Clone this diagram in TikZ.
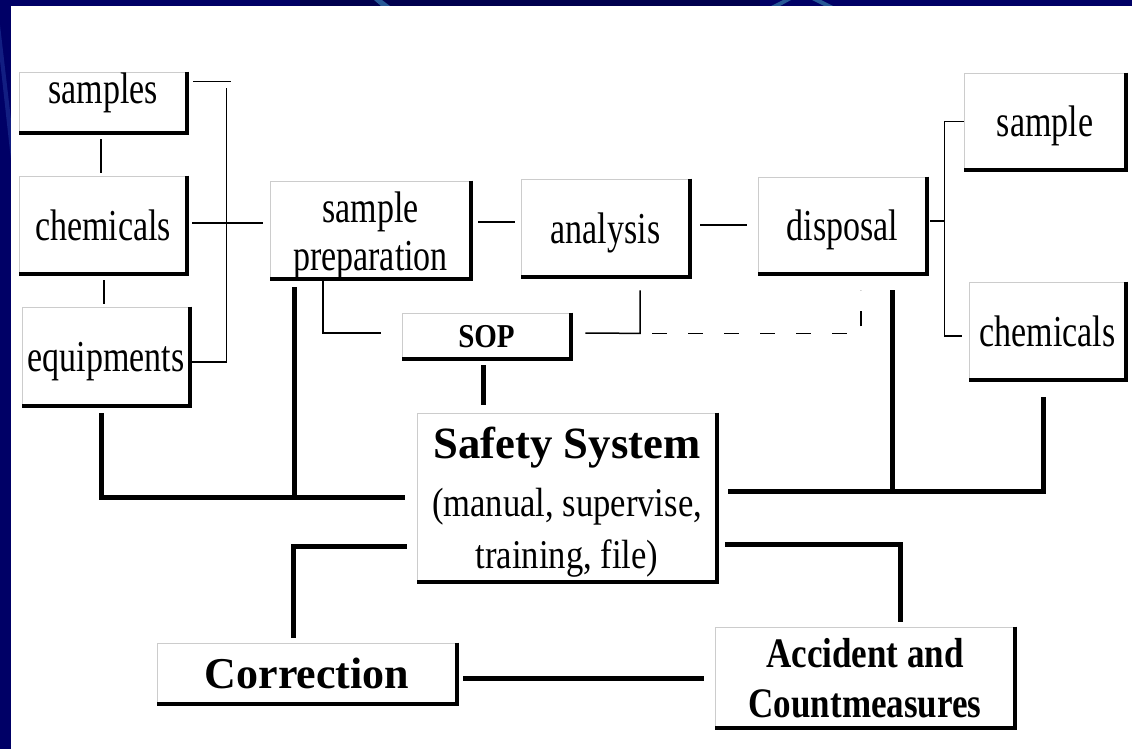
\documentclass[tikz,border=0pt]{standalone}
\usepackage{fontspec}
\setmainfont{Liberation Serif}
\usepackage{graphicx}
\usetikzlibrary{calc}

\definecolor{slideblue}{RGB}{0,0,102}
\definecolor{slidedark}{RGB}{0,0,78}
\definecolor{slidearc}{RGB}{38,88,150}
\definecolor{slidelight}{RGB}{18,30,130}

% the slide text is drawn a little taller than wide
\newcommand{\stretchtxt}[2][1.3]{\scalebox{1}[#1]{#2}}

\tikzset{
  box/.style={draw=gray!40, line width=0.8pt, fill=white, inner sep=0pt, align=center,
    text depth=0pt, font=\fontsize{34}{48}\selectfont},
  boldbox/.style={box, font=\fontsize{44}{50}\bfseries\selectfont},
  link/.style={line width=1.5pt},
  dashlink/.style={link, dash pattern=on 15pt off 21pt},
  bar/.style={line width=5pt},
  shadowline/.style={line width=4pt}
}

\begin{document}
\begin{tikzpicture}[x=1pt,y=-1pt]
  \useasboundingbox (0,0) rectangle (1132,749);
  % slide background
  \fill[slideblue] (0,0) rectangle (1132,749);
  \fill[slidedark] (300,0) rectangle (760,6);
  \fill[slidearc] (374,0) -- (382,0) -- (390,6) -- (381,6) -- cycle;
  \fill[slidearc] (771,6) -- (780,6) -- (791,0) -- (783,0) -- cycle;
  \fill[slidearc] (812,0) -- (821,0) -- (833,6) -- (824,6) -- cycle;
  \fill[slidelight] (0,25) -- (11,120) -- (11,160) -- (0,60) -- cycle;
  \fill[white] (11,6) rectangle (1132,749);

  % left column
  \node[box, minimum width=168, minimum height=61, text depth=28pt] (samples) at (103,102.5) {\stretchtxt{samples}};
  \node[box, minimum width=168, minimum height=98] (chemA) at (103,225) {\stretchtxt{chemicals}};
  \node[box, minimum width=168, minimum height=99] (equipments) at (106,356.5) {\stretchtxt{equipments}};

  % process chain
  \node[box, minimum width=201, minimum height=98, text height=84pt, text depth=4pt] (prep) at (370.5,230) {\stretchtxt{sample}\\\stretchtxt{preparation}};
  \node[box, minimum width=169, minimum height=98] (analysis) at (605.5,228) {\stretchtxt{analysis}};
  \node[box, minimum width=169, minimum height=97] (disposal) at (842.5,225.5) {\stretchtxt{disposal}};
  \node[box, minimum width=162, minimum height=97] (sampleR) at (1045,121.5) {\stretchtxt{sample}};
  \node[box, minimum width=157, minimum height=98] (chemR) at (1047.5,331) {\stretchtxt{chemicals}};

  \node[box, minimum width=169, minimum height=46, font=\fontsize{29}{34}\bfseries\selectfont] (SOP) at (486.5,336) {\stretchtxt[1.15]{SOP}};

  \node[box, minimum width=300, minimum height=169, font=\fontsize{34.6}{52}\selectfont] (safety) at (567,497.5)
    {{\fontsize{44.7}{50}\bfseries\selectfont Safety System}\\[6pt]\stretchtxt[1.18]{(manual, supervise,}\\\stretchtxt[1.18]{training, file)}};

  \node[boldbox, minimum width=300, minimum height=61] (correction) at (307,673.5) {Correction};
  \node[box, minimum width=300, minimum height=101, font=\fontsize{35}{50}\bfseries\selectfont] (accident) at (865,677.5)
    {\stretchtxt[1.2]{Accident and}\\\stretchtxt[1.2]{Countmeasures}};

  % dark edges on the right and bottom of every box
  \foreach \n in {samples,chemA,equipments,prep,analysis,disposal,sampleR,chemR,SOP,safety,correction,accident}
    \draw[shadowline] (\n.north east) -- (\n.south east) -- (\n.south west);

  % thin links
  \draw[link] ($(samples.south)+(-2,6)$) -- ($(chemA.north)+(-2,-3)$);
  \draw[link] ($(chemA.south)+(1,6)$) -- ($(equipments.north)+(-2,-3)$);
  \draw[link] ($(samples.north east)+(6,10)$) -- ++(38,0);
  \draw[link] ($(equipments.east)+(0,5.5)$) -| ($(samples.north east)+(39,16)$);
  \draw[link] ($(chemA.east)+(5,-2)$) -- ($(prep.west)+(-7,-7)$);
  \draw[link] ($(prep.east)+(7,-8)$) -- ($(analysis.west)+(-6,-6)$);
  \draw[link] ($(analysis.east)+(10,-3)$) -- ($(disposal.west)+(-11,-0.5)$);

  \coordinate (dspine) at ($(disposal.east)+(17,-4.5)$);
  \draw[link] ($(disposal.east)+(3,-4.5)$) -- (dspine);
  \draw[link] (sampleR.west) -| (dspine) |- ($(chemR.west)+(-7,5)$);

  \draw[link] ($(prep.south)+(-47.5,0)$) |- ($(SOP.west)+(-21,-3)$);
  \coordinate (sopR) at ($(analysis.south)+(34.5,56)$);
  \draw[link] ($(analysis.south)+(34.5,13)$) -- (sopR) -- ($(SOP.east)+(14,-3)$);
  \draw[dashlink] ($(sopR)+(12,0)$) -- ($(disposal.south)+(18.5,59)$) -- ($(disposal.south)+(18.5,16)$);

  % heavy links to the safety system
  \draw[bar] ($(SOP.south)+(-3.5,6)$) -- ($(safety.north)+(-84,-8)$);
  \draw[bar] ($(equipments.south)+(-5,7)$) |- ($(safety.west)+(-12,0)$);
  \coordinate (prepfoot) at ($(prep.south west)+(25,8)$);
  \draw[bar] (prepfoot) -- (prepfoot |- safety.west);

  \coordinate (rbar) at ($(safety.east)+(11,-6.5)$);
  \coordinate (chemfoot) at ($(chemR.south)+(-4.5,17)$);
  \coordinate (dispfoot) at ($(disposal.south)+(49.5,16)$);
  \draw[bar] (rbar) -| (chemfoot);
  \draw[bar] (dispfoot) -- (dispfoot |- rbar);

  \coordinate (corrtop) at ($(correction.north)+(-14,-5)$);
  \coordinate (safeL) at ($(safety.west)+(-10,48.5)$);
  \draw[bar] (corrtop) |- (safeL);
  \coordinate (safeR) at ($(safety.east)+(8,46.5)$);
  \coordinate (acctop) at ($(accident.north)+(35,-5)$);
  \draw[bar] (safeR) -| (acctop);
  \draw[bar] ($(correction.east)+(6,4.5)$) -- ($(accident.west)+(-11,0.5)$);
\end{tikzpicture}
\end{document}
